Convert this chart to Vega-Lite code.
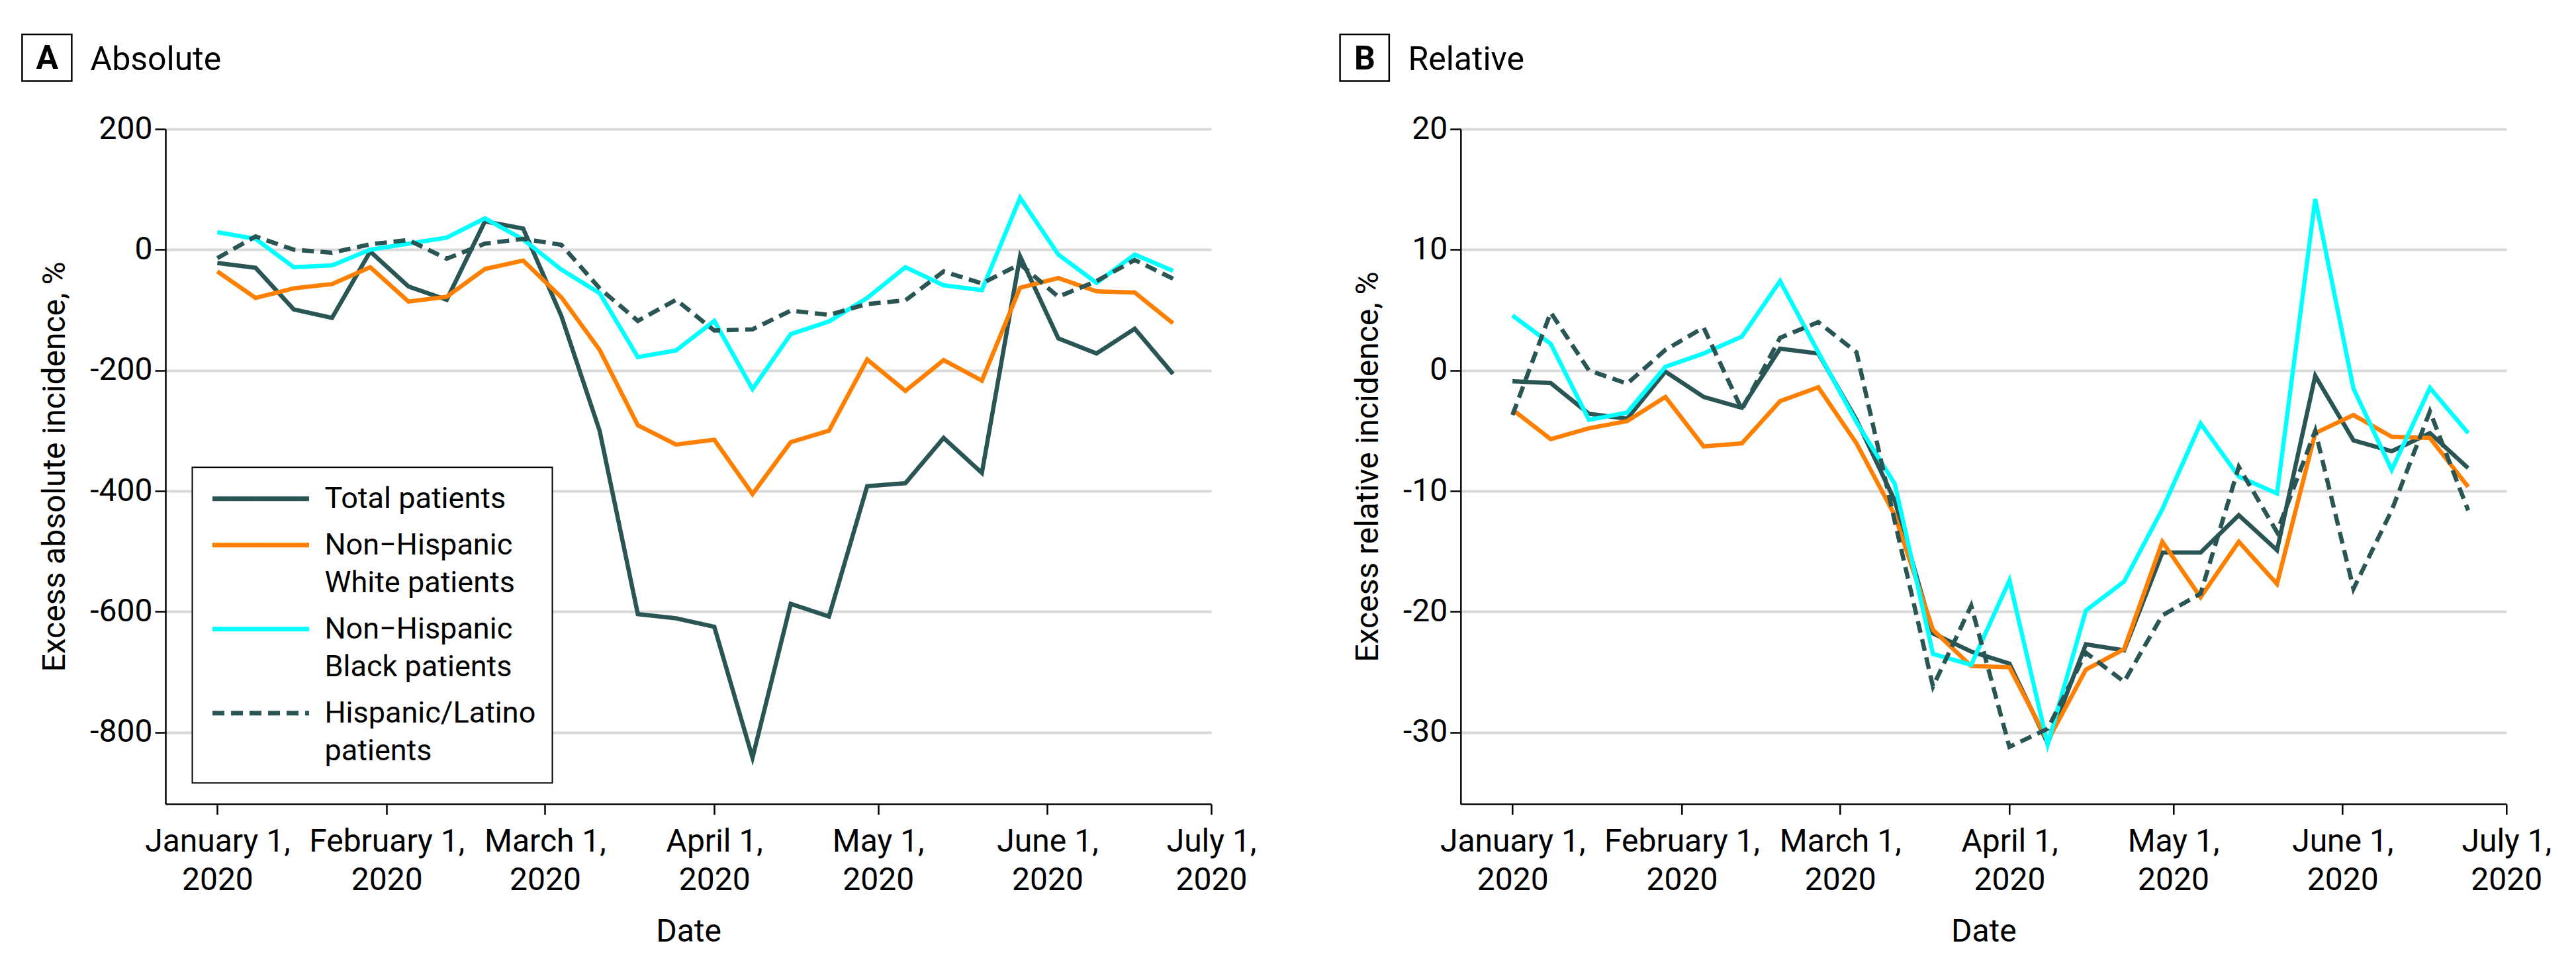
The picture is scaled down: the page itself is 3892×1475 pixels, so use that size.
{
  "$schema": "https://vega.github.io/schema/vega-lite/v6.json",
  "background": "white",
  "padding": {"left": 32, "top": 50, "right": 10, "bottom": 10},
  "autosize": {"type": "pad"},
  "data": {"values": [
    {"d":"2020-01-01T00:00:00","g":"Total patients","abs":-22,"rel":-0.9},
    {"d":"2020-01-08T00:00:00","g":"Total patients","abs":-30,"rel":-1.05},
    {"d":"2020-01-15T00:00:00","g":"Total patients","abs":-99,"rel":-3.6},
    {"d":"2020-01-22T00:00:00","g":"Total patients","abs":-113,"rel":-4.0},
    {"d":"2020-01-29T00:00:00","g":"Total patients","abs":-3,"rel":-0.1},
    {"d":"2020-02-05T00:00:00","g":"Total patients","abs":-61,"rel":-2.2},
    {"d":"2020-02-12T00:00:00","g":"Total patients","abs":-83,"rel":-3.1},
    {"d":"2020-02-19T00:00:00","g":"Total patients","abs":47,"rel":1.8},
    {"d":"2020-02-26T00:00:00","g":"Total patients","abs":35,"rel":1.4},
    {"d":"2020-03-04T00:00:00","g":"Total patients","abs":-110,"rel":-4.1},
    {"d":"2020-03-11T00:00:00","g":"Total patients","abs":-300,"rel":-10.8},
    {"d":"2020-03-18T00:00:00","g":"Total patients","abs":-604,"rel":-21.8},
    {"d":"2020-03-25T00:00:00","g":"Total patients","abs":-611,"rel":-23.3},
    {"d":"2020-04-01T00:00:00","g":"Total patients","abs":-625,"rel":-24.3},
    {"d":"2020-04-08T00:00:00","g":"Total patients","abs":-842,"rel":-30.9},
    {"d":"2020-04-15T00:00:00","g":"Total patients","abs":-587,"rel":-22.7},
    {"d":"2020-04-22T00:00:00","g":"Total patients","abs":-608,"rel":-23.2},
    {"d":"2020-04-29T00:00:00","g":"Total patients","abs":-392,"rel":-15.1},
    {"d":"2020-05-06T00:00:00","g":"Total patients","abs":-387,"rel":-15.1},
    {"d":"2020-05-13T00:00:00","g":"Total patients","abs":-312,"rel":-12.0},
    {"d":"2020-05-20T00:00:00","g":"Total patients","abs":-370,"rel":-14.9},
    {"d":"2020-05-27T00:00:00","g":"Total patients","abs":-11,"rel":-0.45},
    {"d":"2020-06-03T00:00:00","g":"Total patients","abs":-147,"rel":-5.8},
    {"d":"2020-06-10T00:00:00","g":"Total patients","abs":-172,"rel":-6.7},
    {"d":"2020-06-17T00:00:00","g":"Total patients","abs":-131,"rel":-5.2},
    {"d":"2020-06-24T00:00:00","g":"Total patients","abs":-206,"rel":-8.1},

    {"d":"2020-01-01T00:00:00","g":"Non−Hispanic White patients","abs":-36,"rel":-3.25},
    {"d":"2020-01-08T00:00:00","g":"Non−Hispanic White patients","abs":-80,"rel":-5.7},
    {"d":"2020-01-15T00:00:00","g":"Non−Hispanic White patients","abs":-64,"rel":-4.8},
    {"d":"2020-01-22T00:00:00","g":"Non−Hispanic White patients","abs":-57,"rel":-4.2},
    {"d":"2020-01-29T00:00:00","g":"Non−Hispanic White patients","abs":-29,"rel":-2.2},
    {"d":"2020-02-05T00:00:00","g":"Non−Hispanic White patients","abs":-86,"rel":-6.3},
    {"d":"2020-02-12T00:00:00","g":"Non−Hispanic White patients","abs":-78,"rel":-6.05},
    {"d":"2020-02-19T00:00:00","g":"Non−Hispanic White patients","abs":-32,"rel":-2.55},
    {"d":"2020-02-26T00:00:00","g":"Non−Hispanic White patients","abs":-18,"rel":-1.4},
    {"d":"2020-03-04T00:00:00","g":"Non−Hispanic White patients","abs":-79,"rel":-6.05},
    {"d":"2020-03-11T00:00:00","g":"Non−Hispanic White patients","abs":-166,"rel":-12.0},
    {"d":"2020-03-18T00:00:00","g":"Non−Hispanic White patients","abs":-291,"rel":-21.5},
    {"d":"2020-03-25T00:00:00","g":"Non−Hispanic White patients","abs":-323,"rel":-24.5},
    {"d":"2020-04-01T00:00:00","g":"Non−Hispanic White patients","abs":-315,"rel":-24.6},
    {"d":"2020-04-08T00:00:00","g":"Non−Hispanic White patients","abs":-405,"rel":-30.7},
    {"d":"2020-04-15T00:00:00","g":"Non−Hispanic White patients","abs":-319,"rel":-24.8},
    {"d":"2020-04-22T00:00:00","g":"Non−Hispanic White patients","abs":-300,"rel":-23.1},
    {"d":"2020-04-29T00:00:00","g":"Non−Hispanic White patients","abs":-182,"rel":-14.2},
    {"d":"2020-05-06T00:00:00","g":"Non−Hispanic White patients","abs":-234,"rel":-18.8},
    {"d":"2020-05-13T00:00:00","g":"Non−Hispanic White patients","abs":-183,"rel":-14.2},
    {"d":"2020-05-20T00:00:00","g":"Non−Hispanic White patients","abs":-217,"rel":-17.7},
    {"d":"2020-05-27T00:00:00","g":"Non−Hispanic White patients","abs":-63,"rel":-5.2},
    {"d":"2020-06-03T00:00:00","g":"Non−Hispanic White patients","abs":-47,"rel":-3.7},
    {"d":"2020-06-10T00:00:00","g":"Non−Hispanic White patients","abs":-69,"rel":-5.5},
    {"d":"2020-06-17T00:00:00","g":"Non−Hispanic White patients","abs":-71,"rel":-5.6},
    {"d":"2020-06-24T00:00:00","g":"Non−Hispanic White patients","abs":-122,"rel":-9.65},

    {"d":"2020-01-01T00:00:00","g":"Non−Hispanic Black patients","abs":29,"rel":4.55},
    {"d":"2020-01-08T00:00:00","g":"Non−Hispanic Black patients","abs":18,"rel":2.2},
    {"d":"2020-01-15T00:00:00","g":"Non−Hispanic Black patients","abs":-29,"rel":-4.1},
    {"d":"2020-01-22T00:00:00","g":"Non−Hispanic Black patients","abs":-26,"rel":-3.5},
    {"d":"2020-01-29T00:00:00","g":"Non−Hispanic Black patients","abs":0,"rel":0.3},
    {"d":"2020-02-05T00:00:00","g":"Non−Hispanic Black patients","abs":10,"rel":1.4},
    {"d":"2020-02-12T00:00:00","g":"Non−Hispanic Black patients","abs":20,"rel":2.8},
    {"d":"2020-02-19T00:00:00","g":"Non−Hispanic Black patients","abs":52,"rel":7.4},
    {"d":"2020-02-26T00:00:00","g":"Non−Hispanic Black patients","abs":17,"rel":1.5},
    {"d":"2020-03-04T00:00:00","g":"Non−Hispanic Black patients","abs":-33,"rel":-4.3},
    {"d":"2020-03-11T00:00:00","g":"Non−Hispanic Black patients","abs":-72,"rel":-9.4},
    {"d":"2020-03-18T00:00:00","g":"Non−Hispanic Black patients","abs":-178,"rel":-23.5},
    {"d":"2020-03-25T00:00:00","g":"Non−Hispanic Black patients","abs":-167,"rel":-24.4},
    {"d":"2020-04-01T00:00:00","g":"Non−Hispanic Black patients","abs":-118,"rel":-17.4},
    {"d":"2020-04-08T00:00:00","g":"Non−Hispanic Black patients","abs":-231,"rel":-31.0},
    {"d":"2020-04-15T00:00:00","g":"Non−Hispanic Black patients","abs":-140,"rel":-19.9},
    {"d":"2020-04-22T00:00:00","g":"Non−Hispanic Black patients","abs":-119,"rel":-17.5},
    {"d":"2020-04-29T00:00:00","g":"Non−Hispanic Black patients","abs":-80,"rel":-11.5},
    {"d":"2020-05-06T00:00:00","g":"Non−Hispanic Black patients","abs":-29,"rel":-4.4},
    {"d":"2020-05-13T00:00:00","g":"Non−Hispanic Black patients","abs":-59,"rel":-8.8},
    {"d":"2020-05-20T00:00:00","g":"Non−Hispanic Black patients","abs":-67,"rel":-10.2},
    {"d":"2020-05-27T00:00:00","g":"Non−Hispanic Black patients","abs":86,"rel":14.2},
    {"d":"2020-06-03T00:00:00","g":"Non−Hispanic Black patients","abs":-8,"rel":-1.5},
    {"d":"2020-06-10T00:00:00","g":"Non−Hispanic Black patients","abs":-55,"rel":-8.25},
    {"d":"2020-06-17T00:00:00","g":"Non−Hispanic Black patients","abs":-8,"rel":-1.45},
    {"d":"2020-06-24T00:00:00","g":"Non−Hispanic Black patients","abs":-35,"rel":-5.2},

    {"d":"2020-01-01T00:00:00","g":"Hispanic/Latino patients","abs":-14,"rel":-3.7},
    {"d":"2020-01-08T00:00:00","g":"Hispanic/Latino patients","abs":22,"rel":4.8},
    {"d":"2020-01-15T00:00:00","g":"Hispanic/Latino patients","abs":0,"rel":0},
    {"d":"2020-01-22T00:00:00","g":"Hispanic/Latino patients","abs":-5,"rel":-1.1},
    {"d":"2020-01-29T00:00:00","g":"Hispanic/Latino patients","abs":9,"rel":1.7},
    {"d":"2020-02-05T00:00:00","g":"Hispanic/Latino patients","abs":16,"rel":3.55},
    {"d":"2020-02-12T00:00:00","g":"Hispanic/Latino patients","abs":-15,"rel":-3.25},
    {"d":"2020-02-19T00:00:00","g":"Hispanic/Latino patients","abs":10,"rel":2.7},
    {"d":"2020-02-26T00:00:00","g":"Hispanic/Latino patients","abs":18,"rel":4.0},
    {"d":"2020-03-04T00:00:00","g":"Hispanic/Latino patients","abs":8,"rel":1.5},
    {"d":"2020-03-11T00:00:00","g":"Hispanic/Latino patients","abs":-64,"rel":-12.5},
    {"d":"2020-03-18T00:00:00","g":"Hispanic/Latino patients","abs":-118,"rel":-26.2},
    {"d":"2020-03-25T00:00:00","g":"Hispanic/Latino patients","abs":-83,"rel":-19.5},
    {"d":"2020-04-01T00:00:00","g":"Hispanic/Latino patients","abs":-134,"rel":-31.2},
    {"d":"2020-04-08T00:00:00","g":"Hispanic/Latino patients","abs":-132,"rel":-29.7},
    {"d":"2020-04-15T00:00:00","g":"Hispanic/Latino patients","abs":-101,"rel":-23.4},
    {"d":"2020-04-22T00:00:00","g":"Hispanic/Latino patients","abs":-108,"rel":-25.8},
    {"d":"2020-04-29T00:00:00","g":"Hispanic/Latino patients","abs":-90,"rel":-20.3},
    {"d":"2020-05-06T00:00:00","g":"Hispanic/Latino patients","abs":-84,"rel":-18.5},
    {"d":"2020-05-13T00:00:00","g":"Hispanic/Latino patients","abs":-36,"rel":-8.0},
    {"d":"2020-05-20T00:00:00","g":"Hispanic/Latino patients","abs":-56,"rel":-13.4},
    {"d":"2020-05-27T00:00:00","g":"Hispanic/Latino patients","abs":-24,"rel":-5.0},
    {"d":"2020-06-03T00:00:00","g":"Hispanic/Latino patients","abs":-78,"rel":-18.1},
    {"d":"2020-06-10T00:00:00","g":"Hispanic/Latino patients","abs":-52,"rel":-11.6},
    {"d":"2020-06-17T00:00:00","g":"Hispanic/Latino patients","abs":-17,"rel":-3.4},
    {"d":"2020-06-24T00:00:00","g":"Hispanic/Latino patients","abs":-48,"rel":-11.6}
  ]},
  "hconcat": [
    {
      "width": 1580,
      "height": 1020,
      "layer": [
        {
          "mark": {"type": "line", "strokeWidth": 6.5, "strokeJoin": "miter"},
          "encoding": {
            "x": {"field": "d", "type": "temporal",
              "scale": {"domain": [{"year": 2019, "month": 12, "date": 22, "hours": 12}, {"year": 2020, "month": 7, "date": 1}]},
              "axis": {"title": "Date", "grid": false,
                "values": [{"year":2020,"month":1,"date":1},{"year":2020,"month":2,"date":1},{"year":2020,"month":3,"date":1},{"year":2020,"month":4,"date":1},{"year":2020,"month":5,"date":1},{"year":2020,"month":6,"date":1},{"year":2020,"month":7,"date":1}],
                "labelExpr": "[timeFormat(datum.value, '%B %-d,'), timeFormat(datum.value, '%Y')]",
                "labelLineHeight": 58, "labelPadding": 17, "labelFlush": false, "labelOverlap": false, "titlePadding": 30}},
            "y": {"field": "abs", "type": "quantitative",
              "scale": {"domain": [-918.7, 200], "nice": false, "zero": false},
              "axis": {"title": "Excess absolute incidence, %", "grid": true,
                "values": [-800, -600, -400, -200, 0, 200],
                "labelExpr": "'' + datum.value", "labelPadding": 4, "titlePadding": 28}},
            "color": {"field": "g", "type": "nominal",
              "scale": {"domain": ["Total patients", "Non−Hispanic White patients", "Non−Hispanic Black patients", "Hispanic/Latino patients"],
                        "range": ["#2a5555", "#ff8000", "#00ffff", "#2a5555"]},
              "legend": {"title": null, "labelExpr": "datum.label == 'Total patients' ? 'Total patients' : datum.label == 'Hispanic/Latino patients' ? ['Hispanic/Latino', 'patients'] : [slice(datum.label, 0, 12), slice(datum.label, 13)]"}},
            "strokeDash": {"field": "g", "type": "nominal",
              "scale": {"domain": ["Total patients", "Non−Hispanic White patients", "Non−Hispanic Black patients", "Hispanic/Latino patients"],
                        "range": [[1, 0], [1, 0], [1, 0], [18, 10]]},
              "legend": {"title": null, "labelExpr": "datum.label == 'Total patients' ? 'Total patients' : datum.label == 'Hispanic/Latino patients' ? ['Hispanic/Latino', 'patients'] : [slice(datum.label, 0, 12), slice(datum.label, 13)]"}}
          }
        },
        {
          "data": {"values": [{}]},
          "mark": {"type": "rect", "fill": null, "stroke": "black", "strokeWidth": 2.5},
          "encoding": {
            "x": {"datum": {"year": 2019, "month": 11, "date": 26, "hours": 6}, "type": "temporal"},
            "x2": {"datum": {"year": 2019, "month": 12, "date": 5, "hours": 8}},
            "y": {"datum": 356.8, "type": "quantitative"},
            "y2": {"datum": 279.4}
          }
        },
        {
          "data": {"values": [{}]},
          "mark": {"type": "text", "text": "A", "fontWeight": "bold", "fontSize": 50, "align": "center", "baseline": "middle", "color": "black"},
          "encoding": {
            "x": {"datum": {"year": 2019, "month": 11, "date": 30, "hours": 20}, "type": "temporal"},
            "y": {"datum": 316, "type": "quantitative"}
          }
        },
        {
          "data": {"values": [{}]},
          "mark": {"type": "text", "text": "Absolute", "fontSize": 50, "align": "left", "baseline": "alphabetic", "color": "black"},
          "encoding": {
            "x": {"datum": {"year": 2019, "month": 12, "date": 8, "hours": 18}, "type": "temporal"},
            "y": {"datum": 297.3, "type": "quantitative"}
          }
        }
      ]
    },
    {
      "width": 1580,
      "height": 1020,
      "layer": [
        {
          "mark": {"type": "line", "strokeWidth": 6.5, "strokeJoin": "miter"},
          "encoding": {
            "x": {"field": "d", "type": "temporal",
              "scale": {"domain": [{"year": 2019, "month": 12, "date": 22, "hours": 12}, {"year": 2020, "month": 7, "date": 1}]},
              "axis": {"title": "Date", "grid": false,
                "values": [{"year":2020,"month":1,"date":1},{"year":2020,"month":2,"date":1},{"year":2020,"month":3,"date":1},{"year":2020,"month":4,"date":1},{"year":2020,"month":5,"date":1},{"year":2020,"month":6,"date":1},{"year":2020,"month":7,"date":1}],
                "labelExpr": "[timeFormat(datum.value, '%B %-d,'), timeFormat(datum.value, '%Y')]",
                "labelLineHeight": 58, "labelPadding": 17, "labelFlush": false, "labelOverlap": false, "titlePadding": 30}},
            "y": {"field": "rel", "type": "quantitative",
              "scale": {"domain": [-35.93, 20], "nice": false, "zero": false},
              "axis": {"title": "Excess relative incidence, %", "grid": true,
                "values": [-30, -20, -10, 0, 10, 20],
                "labelExpr": "'' + datum.value", "labelPadding": 4, "titlePadding": 28}},
            "color": {"field": "g", "type": "nominal",
              "scale": {"domain": ["Total patients", "Non−Hispanic White patients", "Non−Hispanic Black patients", "Hispanic/Latino patients"],
                        "range": ["#2a5555", "#ff8000", "#00ffff", "#2a5555"]},
              "legend": null},
            "strokeDash": {"field": "g", "type": "nominal",
              "scale": {"domain": ["Total patients", "Non−Hispanic White patients", "Non−Hispanic Black patients", "Hispanic/Latino patients"],
                        "range": [[1, 0], [1, 0], [1, 0], [18, 10]]},
              "legend": null}
          }
        },
        {
          "data": {"values": [{}]},
          "mark": {"type": "rect", "fill": null, "stroke": "black", "strokeWidth": 2.5},
          "encoding": {
            "x": {"datum": {"year": 2019, "month": 11, "date": 30, "hours": 10}, "type": "temporal"},
            "x2": {"datum": {"year": 2019, "month": 12, "date": 9, "hours": 10}},
            "y": {"datum": 27.84, "type": "quantitative"},
            "y2": {"datum": 23.97}
          }
        },
        {
          "data": {"values": [{}]},
          "mark": {"type": "text", "text": "B", "fontWeight": "bold", "fontSize": 50, "align": "center", "baseline": "middle", "color": "black"},
          "encoding": {
            "x": {"datum": {"year": 2019, "month": 12, "date": 4, "hours": 23}, "type": "temporal"},
            "y": {"datum": 25.75, "type": "quantitative"}
          }
        },
        {
          "data": {"values": [{}]},
          "mark": {"type": "text", "text": "Relative", "fontSize": 50, "align": "left", "baseline": "alphabetic", "color": "black"},
          "encoding": {
            "x": {"datum": {"year": 2019, "month": 12, "date": 12, "hours": 21}, "type": "temporal"},
            "y": {"datum": 24.86, "type": "quantitative"}
          }
        }
      ]
    }
  ],
  "spacing": 376.8,
  "bounds": "flush",
  "resolve": {
    "scale": {"color": "independent", "strokeDash": "independent", "x": "independent", "y": "independent"},
    "legend": {"color": "independent", "strokeDash": "independent"}
  },
  "config": {
    "font": "Roboto",
    "view": {"stroke": null},
    "text": {"font": "Roboto"},
    "axis": {
      "domainColor": "black", "domainWidth": 2.5,
      "tickColor": "black", "tickWidth": 2.5, "tickSize": 16,
      "labelColor": "black", "labelFontSize": 48, "labelFont": "Roboto", "labelLimit": 0,
      "titleColor": "black", "titleFontSize": 48, "titleFontWeight": "normal", "titleFont": "Roboto",
      "gridColor": "#d9d9d9", "gridWidth": 4
    },
    "legend": {
      "orient": "none", "legendX": 40.5, "legendY": 511.3,
      "fillColor": "white", "strokeColor": "black", "strokeWidth": 2,
      "padding": 25,
      "labelFont": "Roboto", "labelFontSize": 45, "labelColor": "black", "labelLimit": 0,
      "labelOffset": 74, "labelBaseline": "middle",
      "symbolType": "M-4,0H4", "symbolSize": 1332, "symbolStrokeWidth": 7, "symbolOffset": 56,
      "rowPadding": 24
    },
    "style": {"guide-label": {"lineHeight": 57}}
  }
}
